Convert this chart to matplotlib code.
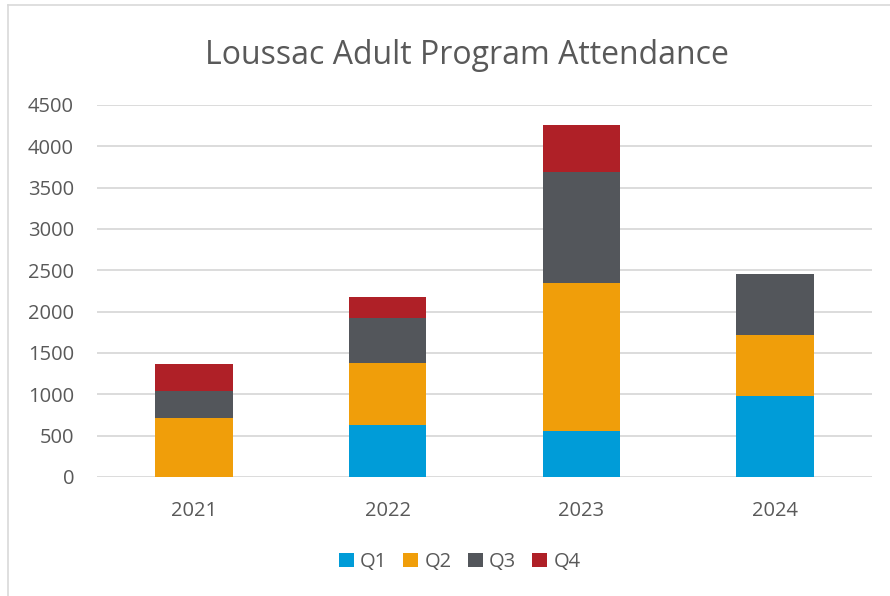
import numpy as np
import matplotlib.pyplot as plt
from matplotlib.lines import Line2D

plt.rcParams['font.family'] = ['Open Sans', 'DejaVu Sans']

# attendance per quarter
years = ['2021', '2022', '2023', '2024']
q1 = [0, 629, 557, 984]
q2 = [710, 754, 1790, 730]
q3 = [327, 537, 1343, 739]
q4 = [334, 258, 569, 0]
series = ['Q1', 'Q2', 'Q3', 'Q4']
colors = ['#009CD8', '#F09E0A', '#53565B', '#AF2027']

text_col = '#595959'

fig = plt.figure(figsize=(8.9, 5.96), dpi=100)
ax = fig.add_axes([97 / 890, 1 - 477 / 596, 775 / 890, 372 / 596])

x = np.arange(len(years))
bottom = np.zeros(len(years))
for name, vals, c in zip(series, [q1, q2, q3, q4], colors):
    ax.bar(x, vals, width=0.4, bottom=bottom, color=c, label=name, zorder=3)
    bottom += np.array(vals)

ax.set_xlim(-0.5, 3.5)
ax.set_ylim(0, 4500)
ax.set_yticks(np.arange(0, 4501, 500))
ax.set_xticks(x)
ax.set_xticklabels(years)
ax.grid(axis='y', color='#D9D9D9', linewidth=1.3, zorder=0)
for s in ax.spines.values():
    s.set_visible(False)
ax.tick_params(length=0, labelsize=14.5, labelcolor=text_col)
ax.tick_params(axis='y', pad=16.5)
ax.tick_params(axis='x', pad=17)

fig.text(0.525, 1 - 56 / 596, 'Loussac Adult Program Attendance', ha='center', va='center',
         fontsize=23, color=text_col)

ax.legend(loc='center', bbox_to_anchor=(0.468, (477 - 562) / 372), ncol=4, frameon=False,
          fontsize=14.5, labelcolor=text_col, handlelength=0.75, handleheight=0.75,
          handletextpad=0.3, columnspacing=0.8)

# chart frame (only left and top edges visible in the crop)
fig.add_artist(Line2D([8 / 890, 8 / 890], [0, 1 - 5 / 596], color='#D9D9D9', lw=1.2))
fig.add_artist(Line2D([8 / 890, 1], [1 - 5 / 596, 1 - 5 / 596], color='#D9D9D9', lw=1.2))

fig.savefig('out.png', dpi=100)
